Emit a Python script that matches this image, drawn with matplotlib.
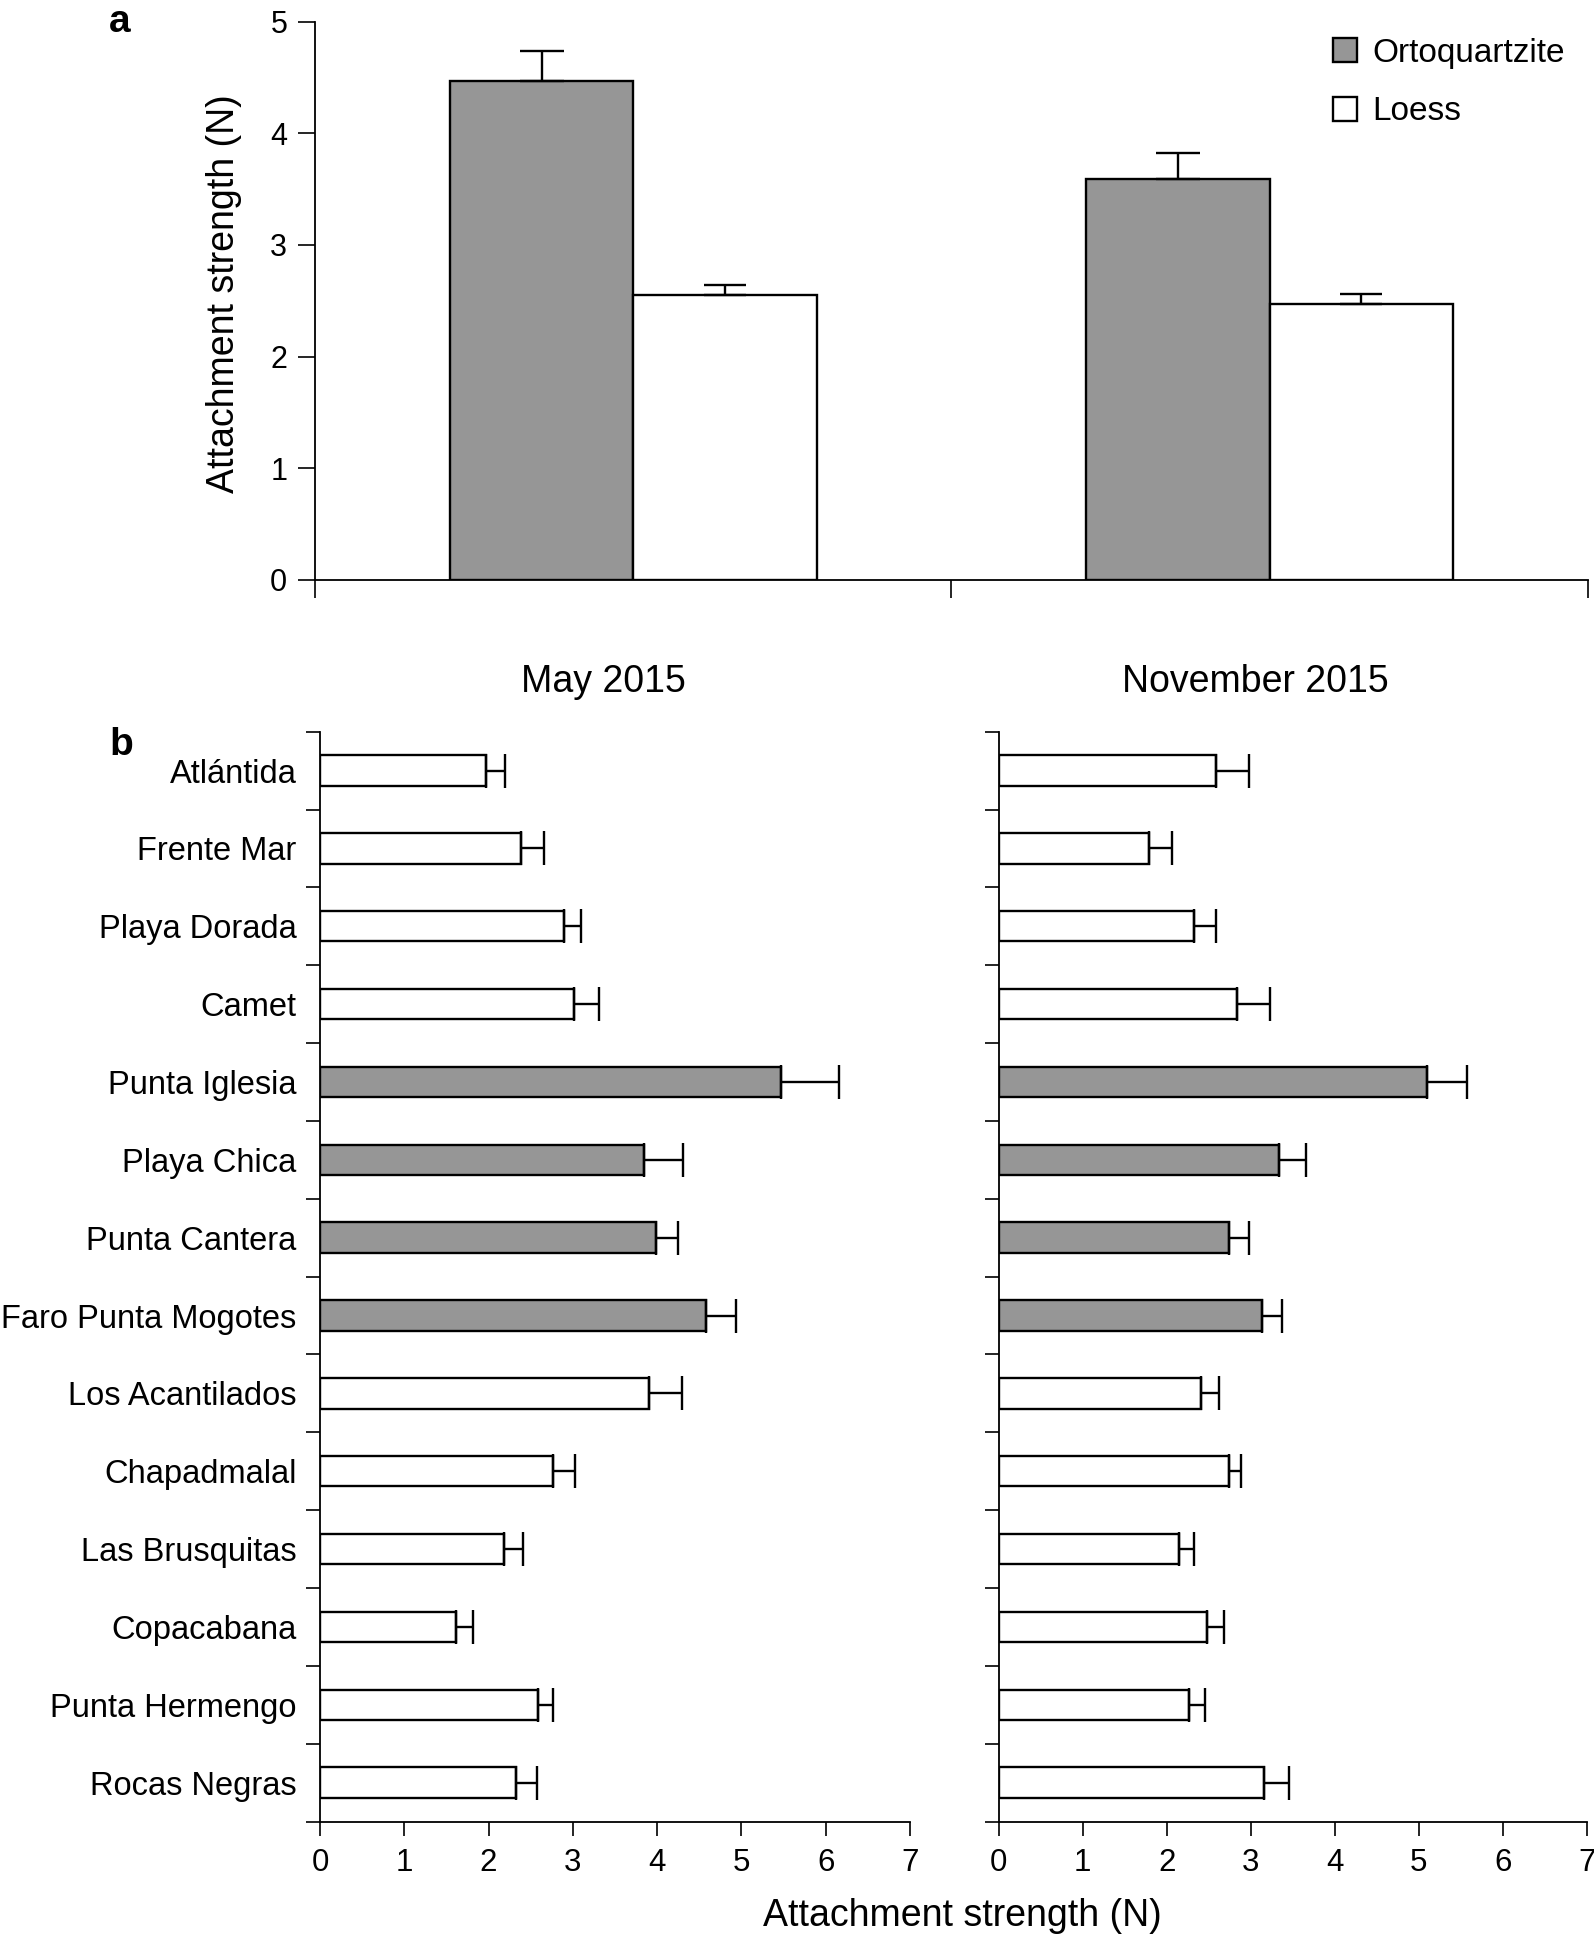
import matplotlib
matplotlib.use("Agg")
import matplotlib.pyplot as plt
from matplotlib.patches import Patch
import numpy as np

plt.rcParams['font.family'] = ['Liberation Sans', 'DejaVu Sans']

# ---- data: panel a ----
seasons = ["May 2015", "November 2015"]
ortho_mean = [4.47, 3.59]
ortho_err = [0.27, 0.23]
loess_mean = [2.555, 2.47]
loess_err = [0.09, 0.09]

# ---- data: panel b ----
sites = ["Atlántida", "Frente Mar", "Playa Dorada", "Camet", "Punta Iglesia",
         "Playa Chica", "Punta Cantera", "Faro Punta Mogotes", "Los Acantilados",
         "Chapadmalal", "Las Brusquitas", "Copacabana", "Punta Hermengo", "Rocas Negras"]
substrate = ["L", "L", "L", "L", "O", "O", "O", "O", "L", "L", "L", "L", "L", "L"]
may_mean = [1.97, 2.39, 2.89, 3.01, 5.47, 3.84, 3.99, 4.58, 3.90, 2.76, 2.18, 1.61, 2.59, 2.32]
may_err = [0.23, 0.27, 0.21, 0.30, 0.69, 0.47, 0.26, 0.35, 0.40, 0.27, 0.23, 0.21, 0.17, 0.26]
nov_mean = [2.59, 1.79, 2.33, 2.84, 5.10, 3.34, 2.74, 3.13, 2.41, 2.74, 2.15, 2.48, 2.27, 3.16]
nov_err = [0.39, 0.27, 0.26, 0.39, 0.47, 0.32, 0.24, 0.24, 0.21, 0.15, 0.17, 0.20, 0.18, 0.30]
xticks_b = [0, 1, 2, 3, 4, 5, 6, 7]

GRAY = "#969696"
W, H = 1594, 1941
fig = plt.figure(figsize=(W / 100, H / 100), dpi=100)

def fx(px):
    return px / W

def fy(py):
    return 1 - py / H

# ---------------- panel a ----------------
axa = fig.add_axes([fx(315), fy(579.7), fx(1588 - 315), (579.7 - 21.7) / H])
xc = np.array([0.5, 1.5])
bw = 0.288
axa.bar(xc - bw / 2, ortho_mean, width=bw, color=GRAY, edgecolor="black", linewidth=1.7,
        yerr=[[0, 0], ortho_err], capsize=16, error_kw=dict(elinewidth=1.7, capthick=1.7, ecolor="black"),
        label="Ortoquartzite", zorder=2)
axa.bar(xc + bw / 2, loess_mean, width=bw, color="white", edgecolor="black", linewidth=1.7,
        yerr=[[0, 0], loess_err], capsize=15, error_kw=dict(elinewidth=1.7, capthick=1.7, ecolor="black"),
        label="Loess", zorder=2)
axa.set_xlim(0, 2)
axa.set_ylim(0, 5)
axa.set_xticks([0, 1, 2])
axa.set_xticklabels([])
axa.set_yticks([0, 1, 2, 3, 4, 5])
axa.tick_params(axis="y", direction="out", length=12, width=1.2, labelsize=22, pad=8)
axa.tick_params(axis="x", direction="out", length=13, width=1.2)
for s in ["top", "right"]:
    axa.spines[s].set_visible(False)
for s in ["left", "bottom"]:
    axa.spines[s].set_linewidth(1.3)
axa.set_ylabel("Attachment strength (N)", fontsize=27)
axa.yaxis.set_label_coords((242 - 315) / (1588 - 315), 0.513)
axa.yaxis.label.set_va("bottom")

handles = [Patch(facecolor=GRAY, edgecolor="black", linewidth=1.7, label="Ortoquartzite"),
           Patch(facecolor="white", edgecolor="black", linewidth=1.7, label="Loess")]
fig.legend(handles=handles, loc="upper left", bbox_to_anchor=(fx(1333), fy(38)),
           frameon=False, fontsize=24, handlelength=0.72, handleheight=0.72,
           handletextpad=0.45, labelspacing=0.82, borderpad=0, borderaxespad=0)

fig.text(fx(120), fy(22), "a", fontsize=28, fontweight="bold", ha="center", va="center")

# ---------------- panel b ----------------
def draw_panel(left_px, width_px, means, errs, show_labels):
    ax = fig.add_axes([fx(left_px), fy(1821.5), fx(width_px), (1821.5 - 731.7) / H])
    y = np.arange(len(sites))
    colors = [GRAY if s == "O" else "white" for s in substrate]
    ax.barh(y, means, height=0.39, color=colors, edgecolor="black", linewidth=1.7,
            xerr=[np.zeros(len(means)), errs], capsize=12,
            error_kw=dict(elinewidth=1.7, capthick=1.7, ecolor="black"), zorder=2)
    ax.set_ylim(len(sites) - 0.5, -0.5)
    ax.set_xlim(0, 7)
    ax.set_xticks(xticks_b)
    ax.set_yticks(y)
    ax.set_yticks(np.arange(-0.5, len(sites)), minor=True)
    if show_labels:
        ax.set_yticklabels(sites, fontsize=23.5)
    else:
        ax.set_yticklabels([])
    ax.tick_params(axis="y", which="major", length=0, pad=17)
    ax.tick_params(axis="y", which="minor", direction="out", length=10, width=1.2)
    ax.tick_params(axis="x", direction="out", length=10, width=1.2, labelsize=22.5, pad=9)
    for s in ["top", "right"]:
        ax.spines[s].set_visible(False)
    for s in ["left", "bottom"]:
        ax.spines[s].set_linewidth(1.3)
    return ax

axl = draw_panel(320, 590, may_mean, may_err, True)
axr = draw_panel(998.7, 588, nov_mean, nov_err, False)

fig.text(fx(603), fy(682), seasons[0], fontsize=27, ha="center", va="center")
fig.text(fx(1255), fy(682), seasons[1], fontsize=27, ha="center", va="center")
fig.text(fx(121), fy(745), "b", fontsize=28, fontweight="bold", ha="center", va="center")
fig.text(fx(962), fy(1916), "Attachment strength (N)", fontsize=27, ha="center", va="center")

fig.savefig("out.png", dpi=100)
